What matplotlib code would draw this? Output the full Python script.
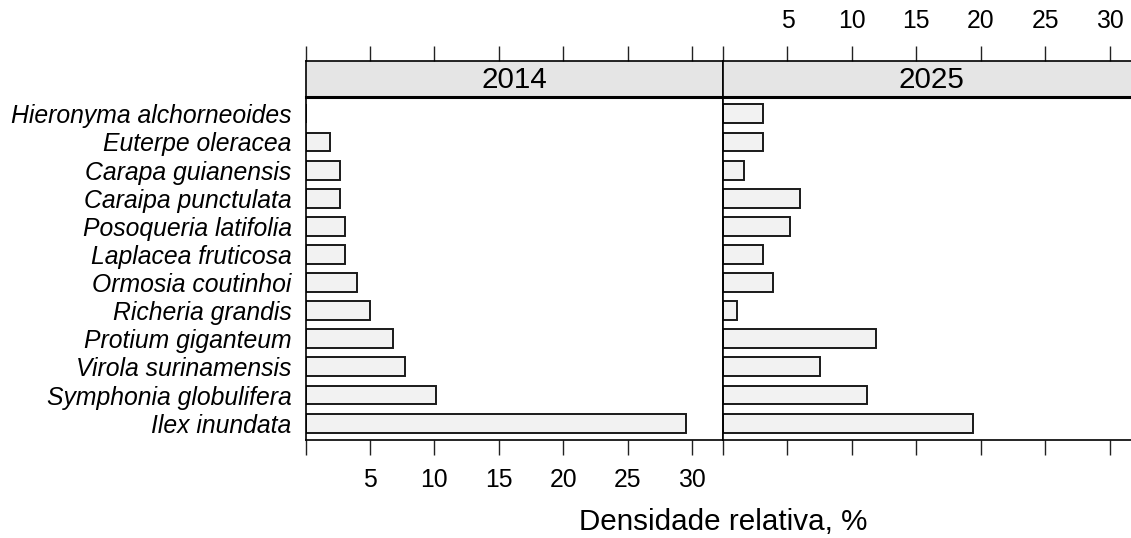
import numpy as np
import matplotlib
matplotlib.use("Agg")
import matplotlib.pyplot as plt

species = ["Hieronyma alchorneoides", "Euterpe oleracea", "Carapa guianensis",
           "Caraipa punctulata", "Posoqueria latifolia", "Laplacea fruticosa",
           "Ormosia coutinhoi", "Richeria grandis", "Protium giganteum",
           "Virola surinamensis", "Symphonia globulifera", "Ilex inundata"]
dens_2014 = [0.0, 1.9, 2.7, 2.7, 3.1, 3.1, 4.0, 5.0, 6.8, 7.7, 10.1, 29.5]
dens_2025 = [3.1, 3.1, 1.6, 6.0, 5.2, 3.1, 3.9, 1.1, 11.9, 7.5, 11.2, 19.4]
years = ["2014", "2025"]
tick_vals = [0, 5, 10, 15, 20, 25, 30]
tick_labs = ["", "5", "10", "15", "20", "25", "30"]
xlabel = "Densidade relativa, %"

plt.rcParams['font.family'] = ['Liberation Sans', 'DejaVu Sans']
FS = 17.8
FS_BIG = 21.3
W, H = 1131, 538
fig = plt.figure(figsize=(W / 100, H / 100), dpi=100)

def fx(px):
    return px / W

def fy(py):
    return 1 - py / H

pan_l = [305.5, 723.0]
pan_w = 417.5
pan_top, pan_bot = 97.0, 440.0
strip_top = 61.0
xlim = (0, 32.4)
n = len(species)
ypos = np.arange(n, 0, -1)
TL = 10.5
TP = 9.8

for i, (yr, vals) in enumerate(zip(years, [dens_2014, dens_2025])):
    ax = fig.add_axes([fx(pan_l[i]), fy(pan_bot), pan_w / W, (pan_bot - pan_top) / H])
    ax.barh(ypos, vals, height=0.67, left=0, color="#f2f2f2", edgecolor="#1a1a1a",
            linewidth=1.4, zorder=2)
    ax.set_xlim(*xlim)
    ax.set_ylim(0.4, n + 0.6)
    for s in ax.spines.values():
        s.set_linewidth(1.2)
        s.set_color("black")
    ax.set_xticks(tick_vals)
    ax.tick_params(axis="x", direction="out", length=TL, width=1.0, color="#222222",
                   labelsize=FS, pad=TP, top=False)
    if i == 0:
        ax.set_xticklabels(tick_labs)
        ax.set_yticks(ypos)
        ax.set_yticklabels(species, fontstyle="italic", fontsize=FS)
        ax.tick_params(axis="y", length=0, pad=10)
    else:
        ax.set_xticklabels([""] * len(tick_vals))
        ax.set_yticks([])

    sax = fig.add_axes([fx(pan_l[i]), fy(pan_top), pan_w / W, (pan_top - strip_top) / H])
    sax.set_facecolor("#e5e5e5")
    sax.set_xlim(*xlim)
    sax.set_ylim(0, 1)
    sax.set_yticks([])
    sax.xaxis.tick_top()
    sax.set_xticks(tick_vals)
    sax.tick_params(axis="x", direction="out", length=TL, width=1.0, color="#222222",
                    labelsize=FS, pad=TP, bottom=False)
    if i == 1:
        sax.set_xticklabels(tick_labs)
    else:
        sax.set_xticklabels([""] * len(tick_vals))
    for k, s in sax.spines.items():
        s.set_color("black")
        s.set_linewidth(1.2)
    sax.spines["bottom"].set_linewidth(2.2)
    sax.text(0.5, 0.48, yr, transform=sax.transAxes, ha="center", va="center",
             fontsize=FS_BIG)

fig.text(fx(723), fy(530), xlabel, ha="center", va="baseline", fontsize=FS_BIG)

fig.savefig("out.png", dpi=100, facecolor="white")
